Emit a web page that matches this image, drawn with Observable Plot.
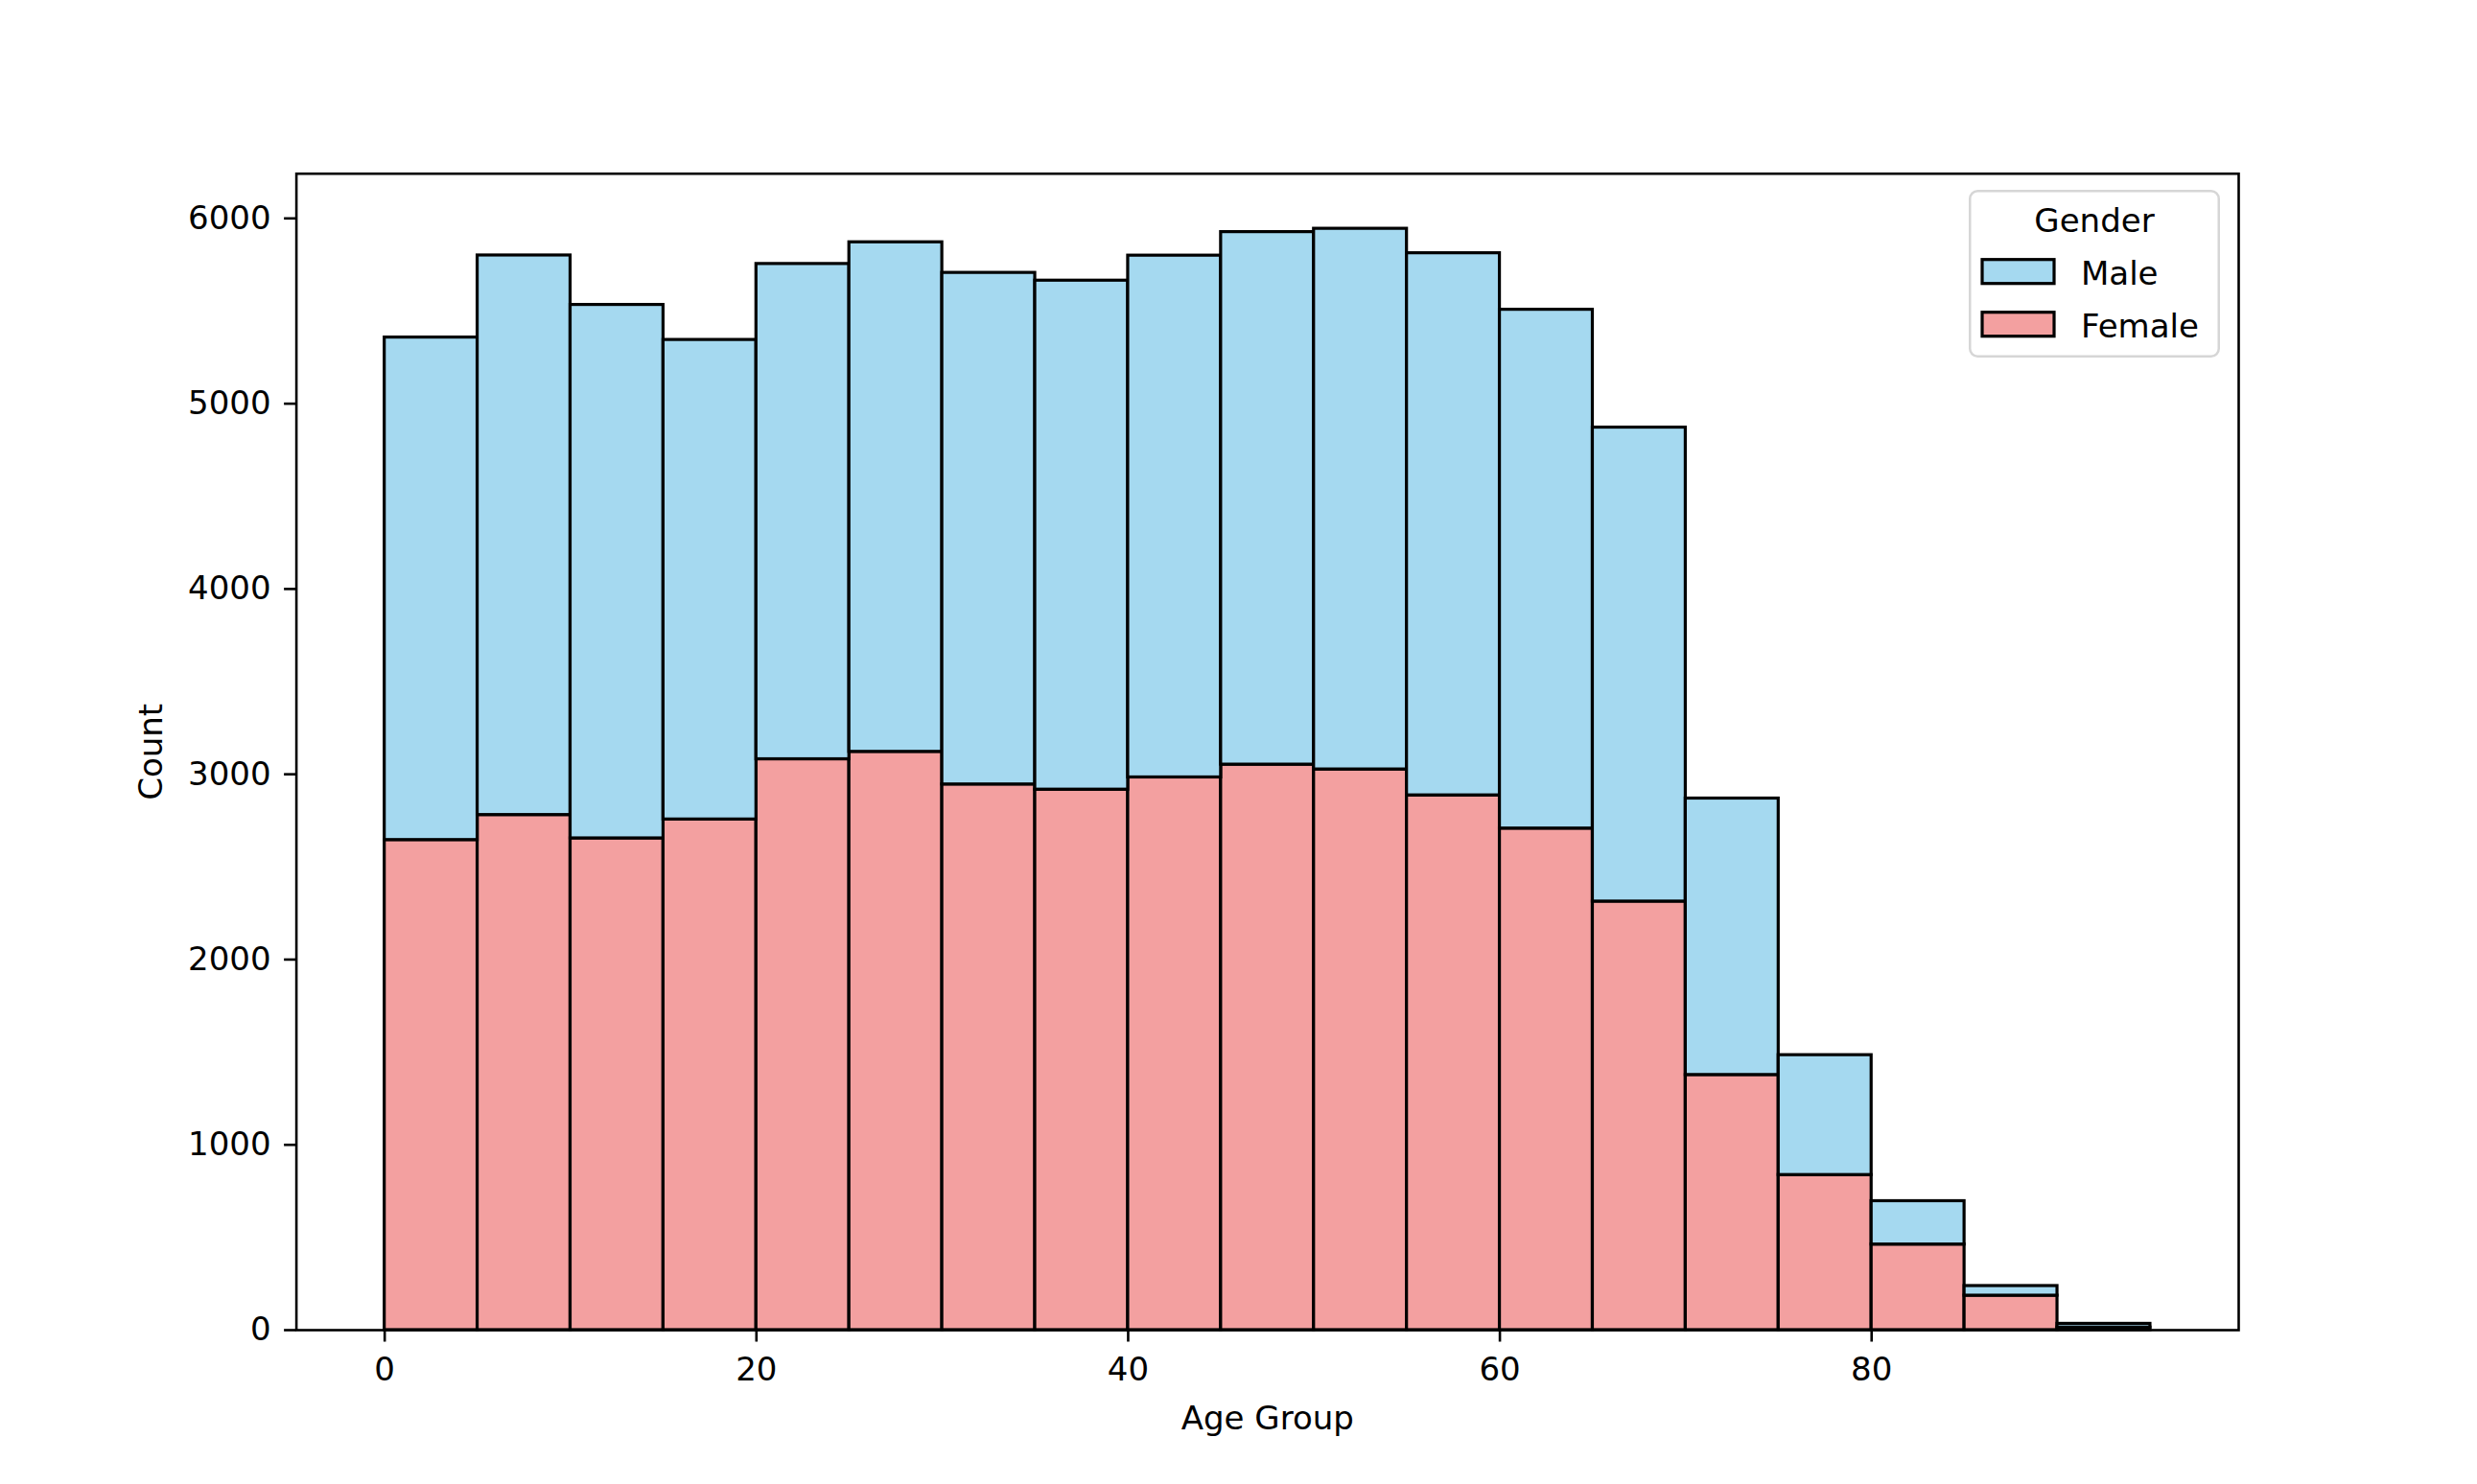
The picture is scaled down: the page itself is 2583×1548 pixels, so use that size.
<!DOCTYPE html>
<html>
<head>
<meta charset="utf-8">
<script src="https://cdn.jsdelivr.net/npm/d3@7"></script>
<script src="https://cdn.jsdelivr.net/npm/@observablehq/plot@0.6"></script>
<style>
  html, body { margin: 0; padding: 0; background: #ffffff; }
  #wrap { position: relative; width: 2583px; height: 1548px; overflow: hidden; }
  #legend { position: absolute; left: 2053px; top: 198px; }
</style>
</head>
<body>
<div id="wrap"></div>
<script>
// Age bins (lower edges, width 5)
const binStarts = [0, 5, 10, 15, 20, 25, 30, 35, 40, 45, 50, 55, 60, 65, 70, 75, 80, 85, 90];
const binWidth = 5;
// Counts per bin
const femaleCounts = [2645, 2780, 2654, 2756, 3081, 3121, 2945, 2917, 2983, 3052, 3026, 2886, 2707, 2313, 1377, 837, 462, 186, 14];
const maleCounts   = [2712, 3020, 2879, 2588, 2673, 2750, 2761, 2747, 2816, 2874, 2918, 2926, 2800, 2558, 1492, 647, 234, 52, 20];
const genders = ["Male", "Female"];
const genderColors = ["#a5d9f0", "#f3a0a0"];
const xTicks = [0, 20, 40, 60, 80];
const yTicks = [0, 1000, 2000, 3000, 4000, 5000, 6000];

const rows = [];
binStarts.forEach((b, i) => rows.push({x1: b, x2: b + binWidth, count: femaleCounts[i], gender: "Female"}));
binStarts.forEach((b, i) => rows.push({x1: b, x2: b + binWidth, count: maleCounts[i], gender: "Male"}));

const xMin = binStarts[0], xMax = binStarts[binStarts.length - 1] + binWidth;
const xPad = (xMax - xMin) * 0.05;
const totals = binStarts.map((b, i) => femaleCounts[i] + maleCounts[i]);
const yMax = d3.max(totals) * 1.05;

const FONT = "'DejaVu Sans', sans-serif";

const plot = Plot.plot({
  width: 2583,
  height: 1548,
  marginLeft: 308.6,
  marginRight: 249,
  marginTop: 180.7,
  marginBottom: 161,
  style: {fontFamily: FONT, fontSize: "34px", color: "#000", background: "#fff", overflow: "visible"},
  x: {domain: [xMin - xPad, xMax + xPad]},
  y: {domain: [0, yMax]},
  color: {domain: genders, range: genderColors},
  marks: [
    Plot.rectY(rows, Plot.stackY({order: ["Female", "Male"]}, {
      x1: "x1", x2: "x2", y: "count", fill: "gender",
      stroke: "#000", strokeWidth: 3.2, inset: 0
    })),
    Plot.frame({stroke: "#000", strokeWidth: 2.6}),
    Plot.axisX({ticks: xTicks, tickSize: 12.5, tickPadding: 16, strokeWidth: 2.6, label: null, tickFormat: "d", fontSize: 34}),
    Plot.axisY({ticks: yTicks, tickSize: 12.5, tickPadding: 14, strokeWidth: 2.6, label: null, tickFormat: "d", fontSize: 34}),
    Plot.text(["Age Group"], {frameAnchor: "bottom", dy: 93, lineAnchor: "middle", textAnchor: "middle", fontSize: 34, fill: "#000"}),
    Plot.text(["Count"], {frameAnchor: "left", dx: -151, rotate: -90, lineAnchor: "middle", textAnchor: "middle", fontSize: 34, fill: "#000"})
  ]
});

const wrap = document.getElementById("wrap");
wrap.appendChild(plot);

// Legend built from the plot's color scale
const colorScale = plot.scale("color");
const lw = 262, lh = 175;
const leg = d3.create("svg")
  .attr("id", "legend")
  .attr("width", lw)
  .attr("height", lh)
  .style("font-family", FONT)
  .style("font-size", "34px");
leg.append("rect")
  .attr("x", 1.25).attr("y", 1.25)
  .attr("width", lw - 2.5).attr("height", lh - 2.5)
  .attr("rx", 8).attr("ry", 8)
  .attr("fill", "#fff").attr("fill-opacity", 0.8)
  .attr("stroke", "#d6d6d6").attr("stroke-width", 2.5);
leg.append("text")
  .attr("x", lw / 2).attr("y", 44)
  .attr("text-anchor", "middle")
  .attr("fill", "#000")
  .text("Gender");
colorScale.domain.forEach((g, i) => {
  const y0 = 72.7 + i * 55;
  leg.append("rect")
    .attr("x", 14).attr("y", y0)
    .attr("width", 75).attr("height", 25)
    .attr("fill", colorScale.apply(g))
    .attr("stroke", "#000").attr("stroke-width", 3.2);
  leg.append("text")
    .attr("x", 117).attr("y", y0 + 26)
    .attr("fill", "#000")
    .text(g);
});
wrap.appendChild(leg.node());
</script>
</body>
</html>
